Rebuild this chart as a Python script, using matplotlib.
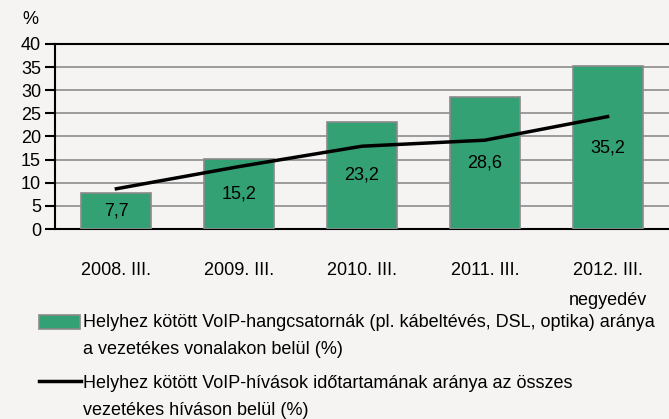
import matplotlib.pyplot as plt
from matplotlib.patches import Rectangle
from matplotlib.lines import Line2D

# data
categories = ['2008. III.', '2009. III.', '2010. III.', '2011. III.', '2012. III.\nnegyedév']
channel_share = [7.7, 15.2, 23.2, 28.6, 35.2]
call_share = [8.7, 13.5, 17.9, 19.2, 24.3]
bar_labels = ['7,7', '15,2', '23,2', '28,6', '35,2']
bar_name = 'Helyhez kötött VoIP-hangcsatornák (pl. kábeltévés, DSL, optika) aránya\na vezetékes vonalakon belül (%)'
line_name = 'Helyhez kötött VoIP-hívások időtartamának aránya az összes\nvezetékes híváson belül (%)'

plt.rcParams['font.family'] = ['Liberation Sans', 'DejaVu Sans']

bg = '#f5f4f2'
green = '#33a173'
edge = '#8a8a8a'
fs = 13
W, H = 669, 419

fig = plt.figure(figsize=(6.69, 4.19), dpi=100, facecolor=bg)
ax = fig.add_axes([55 / W, 1 - 229 / H, 614 / W, 185 / H], facecolor=bg)

x = range(len(categories))
bars = ax.bar(x, channel_share, width=0.57, color=green, edgecolor=edge, linewidth=1.2, zorder=3)
ax.plot(list(x), call_share, color='black', linewidth=2.5, zorder=4)

for b, lab in zip(bars, bar_labels):
    ax.text(b.get_x() + b.get_width() / 2, b.get_height() / 2, lab,
            ha='center', va='center', fontsize=fs, zorder=5)

ax.set_xlim(-0.5, 4.5)
ax.set_ylim(0, 40)
ax.set_yticks(range(0, 41, 5))
ax.set_xticks(list(x))
ax.set_xticklabels(categories, fontsize=fs, linespacing=2.0)
ax.tick_params(axis='x', length=0, pad=24)
ax.tick_params(axis='y', length=7, width=1.5, direction='out', labelsize=fs, pad=3)
ax.yaxis.grid(True, color='#8c8c8c', linewidth=1.2, zorder=0)
ax.set_axisbelow(True)
for s in ['left', 'bottom', 'top']:
    ax.spines[s].set_linewidth(1.5)
    ax.spines[s].set_color('black')
ax.spines['right'].set_visible(False)

fig.text(30 / W, 1 - 20 / H, '%', fontsize=fs, ha='center', va='center')

# legend drawn by hand so the keys line up with the first text line
fig.add_artist(Rectangle((39 / W, 1 - 329 / H), 41 / W, 14 / H, transform=fig.transFigure,
                         facecolor=green, edgecolor=edge, linewidth=1.2))
fig.add_artist(Line2D([39 / W, 81 / W], [1 - 381 / H, 1 - 381 / H], transform=fig.transFigure,
                      color='black', linewidth=2.5))
fig.text(83 / W, 1 - 314 / H, bar_name, fontsize=fs, ha='left', va='top', linespacing=1.75)
fig.text(83 / W, 1 - 375 / H, line_name, fontsize=fs, ha='left', va='top', linespacing=1.75)

fig.savefig('out.png', dpi=100, facecolor=bg)
